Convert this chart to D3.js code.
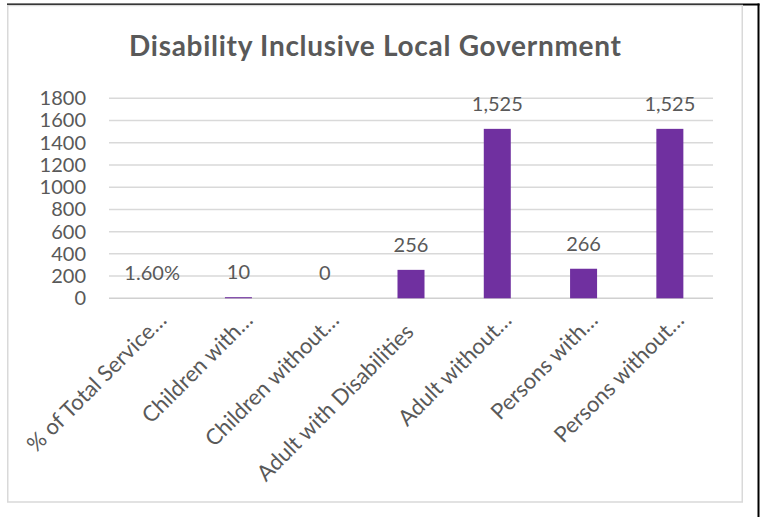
<!DOCTYPE html>
<html>
<head>
<meta charset="utf-8">
<script src="https://cdn.jsdelivr.net/npm/d3@7"></script>
<style>
  html, body { margin: 0; padding: 0; background: #ffffff; }
  svg { display: block; }
</style>
</head>
<body>
<svg id="chart" width="763" height="517"></svg>
<script>
// Chart data
const chartTitle = "Disability Inclusive Local Government";
const categories = [
  "% of Total Service…",
  "Children with…",
  "Children without…",
  "Adult with Disabilities",
  "Adult without…",
  "Persons with…",
  "Persons without…"
];
const values = [0.016, 10, 0, 256, 1525, 266, 1525];
const valueKinds = ["percent", "count", "count", "count", "count", "count", "count"];
const yTicks = [0, 200, 400, 600, 800, 1000, 1200, 1400, 1600, 1800];

const FONT = "Lato, 'Open Sans', sans-serif";
const TEXT = "#595959";
const BAR = "#7030a0";
const GRID = "#d9d9d9";

const svg = d3.select("#chart");

// Outer frame: black top and right edges, light grey chart border
svg.append("line").attr("x1", 7).attr("x2", 759.5).attr("y1", 4.5).attr("y2", 4.5)
  .attr("stroke", "#000").attr("stroke-width", 2);
svg.append("line").attr("x1", 758.5).attr("x2", 758.5).attr("y1", 3.5).attr("y2", 517)
  .attr("stroke", "#000").attr("stroke-width", 2);
svg.append("rect").attr("x", 7.75).attr("y", 5.5).attr("width", 734.5).attr("height", 496.5)
  .attr("fill", "none").attr("stroke", GRID).attr("stroke-width", 1.5);

// Title
svg.append("text")
  .attr("x", 375).attr("y", 56)
  .attr("text-anchor", "middle")
  .attr("font-family", FONT).attr("font-weight", 700).attr("font-size", 28)
  .attr("textLength", 492).attr("lengthAdjust", "spacing")
  .attr("fill", TEXT)
  .text(chartTitle);

// Scales
const plot = { left: 109, right: 713, top: 98.3, bottom: 298.3 };
const x = d3.scaleBand()
  .domain(categories)
  .range([plot.left, plot.right])
  .paddingInner(0.687)
  .paddingOuter(0.3435);
const y = d3.scaleLinear().domain([0, 1800]).range([plot.bottom, plot.top]);

// Horizontal gridlines
svg.append("g")
  .selectAll("line")
  .data(yTicks)
  .join("line")
  .attr("x1", plot.left).attr("x2", plot.right)
  .attr("y1", d => y(d)).attr("y2", d => y(d))
  .attr("stroke", d => d === 0 ? "#d0d0d0" : GRID)
  .attr("stroke-width", 1.5);

// Y axis labels
const yAxis = svg.append("g")
  .attr("transform", "translate(86,0)")
  .call(d3.axisLeft(y).tickValues(yTicks).tickSize(0).tickPadding(0).tickFormat(d3.format("d")));
yAxis.select(".domain").remove();
yAxis.selectAll("text")
  .attr("font-family", FONT).attr("font-size", 20).attr("fill", TEXT);

// Bars
svg.append("g")
  .selectAll("rect")
  .data(values)
  .join("rect")
  .attr("x", (d, i) => x(categories[i]))
  .attr("width", x.bandwidth())
  .attr("y", d => y(d))
  .attr("height", d => y(0) - y(d))
  .attr("fill", BAR);

// Data labels
const fmtPct = d3.format(".2%");
const fmtNum = d3.format(",");
svg.append("g")
  .selectAll("text")
  .data(values)
  .join("text")
  .attr("x", (d, i) => x(categories[i]) + x.bandwidth() / 2)
  .attr("y", d => y(d) - 18)
  .attr("text-anchor", "middle")
  .attr("font-family", FONT).attr("font-size", 20).attr("fill", TEXT)
  .text((d, i) => valueKinds[i] === "percent" ? fmtPct(d) : fmtNum(d));

// Category labels, rotated 45°; a trailing ellipsis runs past the anchor point
const xLabels = svg.append("g")
  .selectAll("g")
  .data(categories)
  .join("g")
  .attr("transform", d => `translate(${x(d) + x.bandwidth() / 2 + 4},${plot.bottom + 35}) rotate(-45)`);
xLabels.append("text")
  .attr("text-anchor", "end")
  .attr("font-family", FONT).attr("font-size", 22).attr("fill", TEXT)
  .text(d => d.replace(/…$/, ""));
xLabels.filter(d => d.endsWith("…"))
  .append("text")
  .attr("text-anchor", "start")
  .attr("font-family", FONT).attr("font-size", 22).attr("fill", TEXT)
  .text("…");
</script>
</body>
</html>
